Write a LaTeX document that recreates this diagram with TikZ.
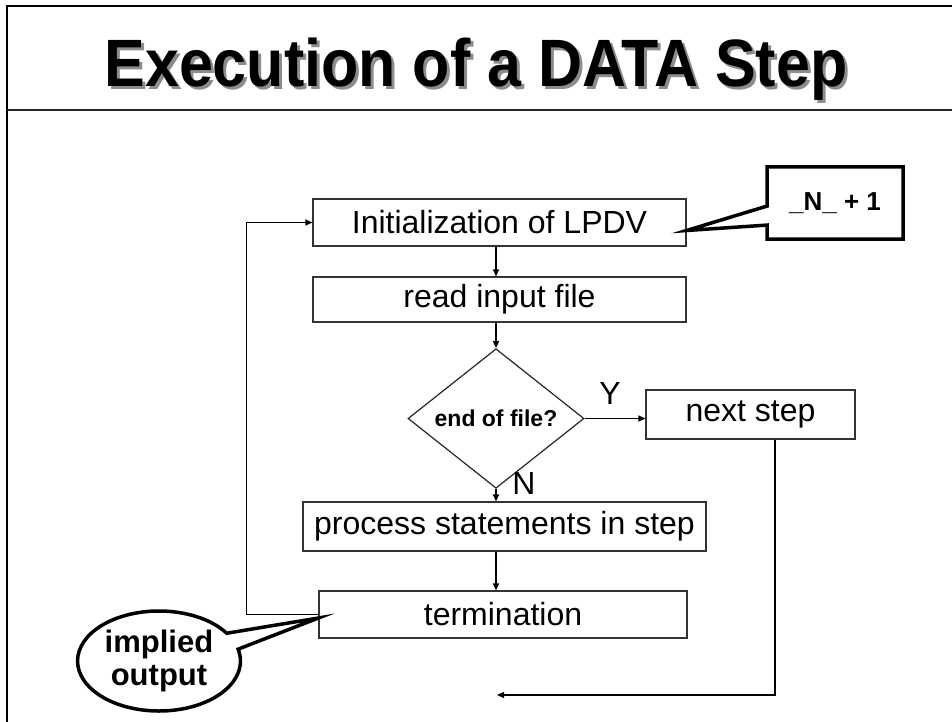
\documentclass[tikz,border=0pt]{standalone}
\usepackage{fontspec}
\setmainfont{Liberation Sans}
\usetikzlibrary{arrows.meta,shapes.geometric,shapes.callouts}
\newcommand{\mytitletxt}{\scalebox{0.91}[1]{Execution of a DATA Step}}
\begin{document}
\begin{tikzpicture}[x=1pt,y=-1pt,
  flowbox/.style={draw=black!80,line width=1.2pt,rectangle,inner sep=0pt,font=\fontsize{32}{36}\selectfont},
  arr/.style={draw=black,line width=1.2pt,-{Triangle[length=7pt,width=6pt]}},
  frameline/.style={draw=black,line width=2.5pt},
  lbl/.style={font=\fontsize{32}{36}\selectfont,inner sep=0pt},
  titletext/.style={anchor=base,inner sep=0pt,font=\bfseries\fontsize{67}{72}\selectfont}
]
\useasboundingbox (0,0) rectangle (952,722);
% slide frame
\draw[frameline] (952,6) -- (7,6) -- (7,722);
\draw[draw=black!85,line width=2pt] (7,110) -- (952,110);
% title with shadow (one node)
\node[titletext,text=black] (title) at (476,87)
  {\makebox[0pt][l]{\hspace{3pt}\raisebox{-3pt}{\color{black!45}\mytitletxt}}\mytitletxt};
% flow boxes
\node[flowbox,minimum width=373pt,minimum height=47pt] (init) at (499.5,222.5) {Initialization of LPDV};
\node[flowbox,minimum width=373pt,minimum height=45pt] (read) at (499.5,299.5) {read input file};
\node[diamond,draw=black!85,line width=1.2pt,inner sep=0pt,minimum width=176pt,minimum height=103pt,font=\bfseries\fontsize{23}{27}\selectfont] (dia) at (496,418.5) {end of file?};
\node[flowbox,minimum width=209pt,minimum height=49pt] (next) at (750.5,414.5) {next step};
\node[flowbox,minimum width=403pt,minimum height=49pt] (proc) at (504.5,526.5) {process statements in step};
\node[flowbox,minimum width=368pt,minimum height=47pt] (term) at (503,614.5) {termination};
% labels
\node[lbl] (ylab) at (610,393) {Y};
\node[lbl] (nlab) at (524,483) {N};
% connectors
\draw[arr] (init.south -| dia.north) -- (read.north -| dia.north);
\draw[arr] (read.south -| dia.north) -- (dia.north);
\draw[arr] (dia.south) -- (proc.north -| dia.south);
\draw[arr] (proc.south -| dia.south) -- (term.north -| dia.south);
\draw[arr] (dia.east) -- (dia.east -| next.west);
\draw[arr] (term.west) -- ++(-72,0) |- (init.west);
\coordinate (endpt) at (497,695);
\draw[arr] ([xshift=24.5pt]next.south) |- (endpt);
% callouts
\node[rectangle callout,draw=black,fill=white,line width=3.5pt,minimum width=136pt,minimum height=72pt,
  callout absolute pointer={([yshift=-8pt]init.east)},callout pointer width=19pt,
  font=\bfseries\fontsize{26}{30}\selectfont] (ncall) at (835,203) {\_N\_ + 1};
\node[ellipse callout,draw=black,fill=white,line width=3.5pt,minimum width=162pt,minimum height=100pt,
  callout absolute pointer={([yshift=-3.5pt]term.west)},callout pointer arc=20,
  align=center,font=\bfseries\fontsize{31}{33}\selectfont] (icall) at (159,661) {implied\\output};
\end{tikzpicture}
\end{document}
